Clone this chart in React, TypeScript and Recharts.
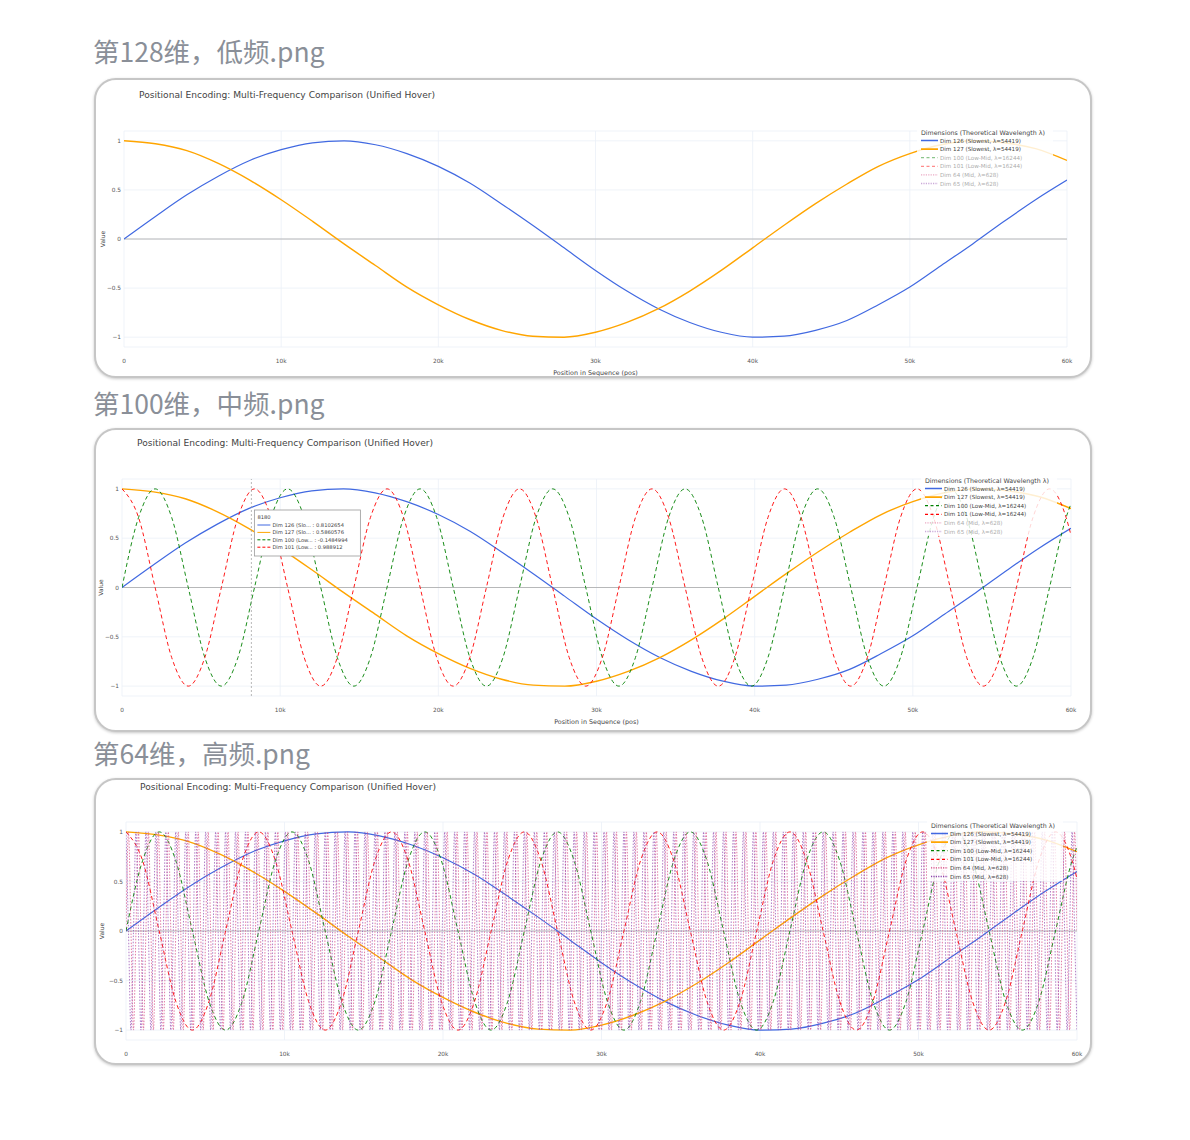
import React from 'react';
import { LineChart, Line, XAxis, YAxis, CartesianGrid, ReferenceLine } from 'recharts';

const FONT = '"DejaVu Sans", Verdana, sans-serif';
const HEAD_FONT = '"Noto Sans CJK SC", "Noto Sans SC", "Noto Sans", "DejaVu Sans", sans-serif';
const MAX_POS = 60000;

const HEADINGS = ['第128维，低频.png', '第100维，中频.png', '第64维，高频.png'];
const CHART_TITLE = 'Positional Encoding: Multi-Frequency Comparison (Unified Hover)';
const LEGEND_TITLE = 'Dimensions (Theoretical Wavelength λ)';
const X_TITLE = 'Position in Sequence (pos)';
const Y_TITLE = 'Value';

const X_TICKS = [0, 10000, 20000, 30000, 40000, 50000, 60000];
const Y_TICKS = [-1, -0.5, 0, 0.5, 1];

const SERIES_KEYS = ['d126', 'd127', 'd100', 'd101', 'd64', 'd65'];
const SERIES_NAMES = [
  'Dim 126 (Slowest, λ=54419)',
  'Dim 127 (Slowest, λ=54419)',
  'Dim 100 (Low-Mid, λ=16244)',
  'Dim 101 (Low-Mid, λ=16244)',
  'Dim 64 (Mid, λ=628)',
  'Dim 65 (Mid, λ=628)',
];

const SLOW_STEP = 2000;
const dim126 = [
  0, 0.23, 0.45, 0.64, 0.8, 0.91, 0.98, 1, 0.96, 0.87, 0.74, 0.57, 0.36, 0.14, -0.09, -0.32,
  -0.53, -0.71, -0.85, -0.95, -1, -0.99, -0.93, -0.83, -0.67, -0.49, -0.27, -0.05, 0.18, 0.4, 0.6,
];
const dim127 = [
  1, 0.97, 0.9, 0.77, 0.6, 0.4, 0.18, -0.05, -0.27, -0.49, -0.67, -0.82, -0.93, -0.99, -1, -0.95,
  -0.85, -0.71, -0.53, -0.32, -0.09, 0.14, 0.36, 0.56, 0.74, 0.87, 0.96, 1, 0.98, 0.92, 0.8,
];

// low-mid pair: one cycle is ~8.38k on the axis, read every 1/8 cycle (last point = 60k)
const MID_STEP = 1047.2;
const dim100 = [
  0, 0.71, 1, 0.71, 0, -0.71, -1, -0.71, 0, 0.71, 1, 0.71, 0, -0.71, -1, -0.71,
  0, 0.71, 1, 0.71, 0, -0.71, -1, -0.71, 0, 0.71, 1, 0.71, 0, -0.71, -1, -0.71,
  0, 0.71, 1, 0.71, 0, -0.71, -1, -0.71, 0, 0.71, 1, 0.71, 0, -0.71, -1, -0.71,
  0, 0.71, 1, 0.71, 0, -0.71, -1, -0.71, 0, 0.71, 0.85,
];
const dim101 = [
  1, 0.71, 0, -0.71, -1, -0.71, 0, 0.71, 1, 0.71, 0, -0.71, -1, -0.71, 0, 0.71,
  1, 0.71, 0, -0.71, -1, -0.71, 0, 0.71, 1, 0.71, 0, -0.71, -1, -0.71, 0, 0.71,
  1, 0.71, 0, -0.71, -1, -0.71, 0, 0.71, 1, 0.71, 0, -0.71, -1, -0.71, 0, 0.71,
  1, 0.71, 0, -0.71, -1, -0.71, 0, 0.71, 1, 0.71, 0.53,
];

// mid pair: ~628 per cycle, read every 1/4 cycle (last point = 60k)
const FAST_STEP = 157.08;
const dim64 = [
  0,1,0,-1,0,1,0,-1,0,1,0,-1,0,1,0,-1,0,1,0,-1,0,1,0,-1,0,1,0,-1,0,1,0,-1,0,1,0,-1,0,1,0,-1,
  0,1,0,-1,0,1,0,-1,0,1,0,-1,0,1,0,-1,0,1,0,-1,0,1,0,-1,0,1,0,-1,0,1,0,-1,0,1,0,-1,0,1,0,-1,
  0,1,0,-1,0,1,0,-1,0,1,0,-1,0,1,0,-1,0,1,0,-1,0,1,0,-1,0,1,0,-1,0,1,0,-1,0,1,0,-1,0,1,0,-1,
  0,1,0,-1,0,1,0,-1,0,1,0,-1,0,1,0,-1,0,1,0,-1,0,1,0,-1,0,1,0,-1,0,1,0,-1,0,1,0,-1,0,1,0,-1,
  0,1,0,-1,0,1,0,-1,0,1,0,-1,0,1,0,-1,0,1,0,-1,0,1,0,-1,0,1,0,-1,0,1,0,-1,0,1,0,-1,0,1,0,-1,
  0,1,0,-1,0,1,0,-1,0,1,0,-1,0,1,0,-1,0,1,0,-1,0,1,0,-1,0,1,0,-1,0,1,0,-1,0,1,0,-1,0,1,0,-1,
  0,1,0,-1,0,1,0,-1,0,1,0,-1,0,1,0,-1,0,1,0,-1,0,1,0,-1,0,1,0,-1,0,1,0,-1,0,1,0,-1,0,1,0,-1,
  0,1,0,-1,0,1,0,-1,0,1,0,-1,0,1,0,-1,0,1,0,-1,0,1,0,-1,0,1,0,-1,0,1,0,-1,0,1,0,-1,0,1,0,-1,
  0,1,0,-1,0,1,0,-1,0,1,0,-1,0,1,0,-1,0,1,0,-1,0,1,0,-1,0,1,0,-1,0,1,0,-1,0,1,0,-1,0,1,0,-1,
  0,1,0,-1,0,1,0,-1,0,1,0,-1,0,1,0,-1,0,1,0,-1,
  0,1,0,
];
const dim65 = [
  1,0,-1,0,1,0,-1,0,1,0,-1,0,1,0,-1,0,1,0,-1,0,1,0,-1,0,1,0,-1,0,1,0,-1,0,1,0,-1,0,1,0,-1,0,
  1,0,-1,0,1,0,-1,0,1,0,-1,0,1,0,-1,0,1,0,-1,0,1,0,-1,0,1,0,-1,0,1,0,-1,0,1,0,-1,0,1,0,-1,0,
  1,0,-1,0,1,0,-1,0,1,0,-1,0,1,0,-1,0,1,0,-1,0,1,0,-1,0,1,0,-1,0,1,0,-1,0,1,0,-1,0,1,0,-1,0,
  1,0,-1,0,1,0,-1,0,1,0,-1,0,1,0,-1,0,1,0,-1,0,1,0,-1,0,1,0,-1,0,1,0,-1,0,1,0,-1,0,1,0,-1,0,
  1,0,-1,0,1,0,-1,0,1,0,-1,0,1,0,-1,0,1,0,-1,0,1,0,-1,0,1,0,-1,0,1,0,-1,0,1,0,-1,0,1,0,-1,0,
  1,0,-1,0,1,0,-1,0,1,0,-1,0,1,0,-1,0,1,0,-1,0,1,0,-1,0,1,0,-1,0,1,0,-1,0,1,0,-1,0,1,0,-1,0,
  1,0,-1,0,1,0,-1,0,1,0,-1,0,1,0,-1,0,1,0,-1,0,1,0,-1,0,1,0,-1,0,1,0,-1,0,1,0,-1,0,1,0,-1,0,
  1,0,-1,0,1,0,-1,0,1,0,-1,0,1,0,-1,0,1,0,-1,0,1,0,-1,0,1,0,-1,0,1,0,-1,0,1,0,-1,0,1,0,-1,0,
  1,0,-1,0,1,0,-1,0,1,0,-1,0,1,0,-1,0,1,0,-1,0,1,0,-1,0,1,0,-1,0,1,0,-1,0,1,0,-1,0,1,0,-1,0,
  1,0,-1,0,1,0,-1,0,1,0,-1,0,1,0,-1,0,1,0,-1,0,
  1,0,-1,
];

// hover readout shown in the second screenshot
const HOVER_POS = 8180;
const HOVER_LABELS = ['Dim 126 (Slo...', 'Dim 127 (Slo...', 'Dim 100 (Low...', 'Dim 101 (Low...'];
const HOVER_VALUES = ['0.8102654', '0.5860576', '-0.1484994', '0.988912'];

type Pt = { pos: number; v: number };
const toPoints = (vals: number[], step: number): Pt[] =>
  vals.map((v, i) => ({ pos: Math.min(i * step, MAX_POS), v }));

const POINTS: Record<string, Pt[]> = {
  d126: toPoints(dim126, SLOW_STEP),
  d127: toPoints(dim127, SLOW_STEP),
  d100: toPoints(dim100, MID_STEP),
  d101: toPoints(dim101, MID_STEP),
  d64: toPoints(dim64, FAST_STEP),
  d65: toPoints(dim65, FAST_STEP),
};

const STYLE: Record<string, { color: string; width: number; dash?: string }> = {
  d126: { color: '#4169E1', width: 1.2 },
  d127: { color: '#FFA500', width: 1.4 },
  d100: { color: '#008000', width: 0.9, dash: '4 3' },
  d101: { color: '#FF0000', width: 0.9, dash: '4 3' },
  d64: { color: '#d6457f', width: 0.7, dash: '1.5 1.5' },
  d65: { color: '#8e44ad', width: 0.7, dash: '1.5 1.5' },
};

// card / plot placement for the three screenshots (page px)
const CARD_LEFT = 94;
const CARD_W = 998;
const BORDER = 2;
const PANELS = [
  { top: 78, height: 300, headTop: 37, plot: { l: 124, r: 1067, t: 131, b: 347 }, title: [139, 95], legend: [921, 132], yTitleX: 102, shown: 2, xTitle: true, hover: false },
  { top: 428, height: 304, headTop: 389, plot: { l: 122, r: 1071, t: 479, b: 696 }, title: [137, 443], legend: [925, 480], yTitleX: 100, shown: 4, xTitle: true, hover: true },
  { top: 778, height: 287, headTop: 739, plot: { l: 126, r: 1077, t: 822, b: 1040 }, title: [140, 787], legend: [931, 825], yTitleX: 101, shown: 6, xTitle: false, hover: false },
];

const fmtX = (v: number) => (v === 0 ? '0' : `${v / 1000}k`);
const fmtY = (v: number) => (v < 0 ? `−${-v}` : `${v}`);

function HoverBox({ viewBox }: any) {
  if (!viewBox) return null;
  const x = viewBox.x + 3;
  const y = viewBox.y + 31;
  return (
    <g fontFamily={FONT}>
      <rect x={x} y={y} width={106} height={46} fill="#fff" stroke="#9a9a9a" strokeWidth={0.8} />
      <text x={x + 3} y={y + 6.5} fontSize={5.2} fill="#444" dominantBaseline="central">{HOVER_POS}</text>
      {HOVER_LABELS.map((lab, i) => {
        const s = STYLE[SERIES_KEYS[i]];
        const ry = y + 15 + i * 7.4;
        return (
          <g key={lab}>
            <line x1={x + 3} x2={x + 16} y1={ry} y2={ry} stroke={s.color} strokeWidth={1} strokeDasharray={s.dash ? '3 2' : undefined} />
            <text x={x + 18} y={ry} fontSize={5.2} fill="#444" dominantBaseline="central">{`${lab} : ${HOVER_VALUES[i]}`}</text>
          </g>
        );
      })}
    </g>
  );
}

function LegendBox({ x, y, shown }: { x: number; y: number; shown: number }) {
  return (
    <g fontFamily={FONT}>
      <rect x={x - 4} y={y - 6} width={136} height={62} fill="rgba(255,255,255,0.82)" />
      <text x={x} y={y} fontSize={6.3} fill="#444" dominantBaseline="central">{LEGEND_TITLE}</text>
      {SERIES_KEYS.map((k, i) => {
        const s = STYLE[k];
        const ry = y + 8.5 + i * 8.6;
        return (
          <g key={k} opacity={i < shown ? 1 : 0.45}>
            <line x1={x} x2={x + 17} y1={ry} y2={ry} stroke={s.color} strokeWidth={k === 'd127' ? 1.8 : 1.3} strokeDasharray={s.dash ? (k === 'd64' || k === 'd65' ? '1.2 1.2' : '3 2.5') : undefined} />
            <text x={x + 19} y={ry} fontSize={5.6} fill="#444" dominantBaseline="central">{SERIES_NAMES[i]}</text>
          </g>
        );
      })}
    </g>
  );
}

function Panel({ idx }: { idx: number }) {
  const p = PANELS[idx];
  const ox = CARD_LEFT + BORDER;
  const oy = p.top + BORDER;
  const W = CARD_W - 2 * BORDER;
  const H = p.height - 2 * BORDER;
  const YW = 20;
  const XH = 20;
  const margin = {
    left: p.plot.l - ox - YW,
    right: W - (p.plot.r - ox),
    top: p.plot.t - oy,
    bottom: H - (p.plot.b - oy) - XH,
  };
  const keys = SERIES_KEYS.slice(0, p.shown);
  const tick = { fontSize: 5.8, fill: '#555', fontFamily: FONT };

  return (
    <>
      <div
        style={{
          position: 'absolute', left: 93, top: p.headTop, fontSize: 26.5, lineHeight: '27px',
          fontFamily: HEAD_FONT, color: '#8a8f98', whiteSpace: 'nowrap',
        }}
      >
        {HEADINGS[idx]}
      </div>
      <div
        style={{
          position: 'absolute', left: CARD_LEFT, top: p.top, width: CARD_W, height: p.height,
          boxSizing: 'border-box', border: `${BORDER}px solid #c6c6c6`, borderRadius: 22,
          overflow: 'hidden', background: '#fff', boxShadow: '0 1px 3px rgba(0,0,0,0.22)',
        }}
      >
        <div style={{ position: 'absolute', left: 0, top: 0 }}>
          <LineChart width={W} height={H} margin={margin}>
            <CartesianGrid stroke="#EBF0F8" strokeWidth={0.8} />
            <XAxis
              type="number"
              dataKey="pos"
              domain={[0, MAX_POS]}
              ticks={X_TICKS}
              interval={0}
              tickFormatter={fmtX}
              tickSize={0}
              tickMargin={12}
              axisLine={false}
              tickLine={false}
              height={XH}
              tick={tick}
              allowDataOverflow
              label={
                p.xTitle
                  ? (lp: any) => (
                      <text
                        x={lp.viewBox.x + lp.viewBox.width / 2}
                        y={lp.viewBox.y + 26}
                        textAnchor="middle"
                        dominantBaseline="central"
                        fontSize={6.4}
                        fill="#444"
                        fontFamily={FONT}
                      >
                        {X_TITLE}
                      </text>
                    )
                  : undefined
              }
            />
            <YAxis
              type="number"
              domain={[-1.1, 1.1]}
              ticks={Y_TICKS}
              interval={0}
              tickFormatter={fmtY}
              width={YW}
              tickSize={0}
              tickMargin={3}
              axisLine={false}
              tickLine={false}
              tick={tick}
              allowDataOverflow
              label={(lp: any) => {
                const cx = p.yTitleX - ox;
                const cy = lp.viewBox.y + lp.viewBox.height / 2;
                return (
                  <text
                    transform={`translate(${cx},${cy}) rotate(-90)`}
                    textAnchor="middle"
                    dominantBaseline="central"
                    fontSize={6}
                    fill="#444"
                    fontFamily={FONT}
                  >
                    {Y_TITLE}
                  </text>
                );
              }}
            />
            <ReferenceLine y={0} stroke="#a8a8a8" strokeWidth={0.8} />
            {keys.map((k) => (
              <Line
                key={k}
                data={POINTS[k]}
                dataKey="v"
                type="monotone"
                stroke={STYLE[k].color}
                strokeWidth={STYLE[k].width}
                strokeDasharray={STYLE[k].dash}
                dot={false}
                activeDot={false}
                isAnimationActive={false}
              />
            ))}
            {p.hover && (
              <ReferenceLine
                x={HOVER_POS}
                stroke="#9a9a9a"
                strokeWidth={0.7}
                strokeDasharray="2 2"
                label={(lp: any) => <HoverBox viewBox={lp.viewBox} />}
              />
            )}
          </LineChart>
        </div>
        <svg width={W} height={H} style={{ position: 'absolute', left: 0, top: 0, pointerEvents: 'none' }}>
          <text x={p.title[0] - ox} y={p.title[1] - oy} fontSize={9.1} fill="#444" fontFamily={FONT} dominantBaseline="central">
            {CHART_TITLE}
          </text>
          <LegendBox x={p.legend[0] - ox} y={p.legend[1] - oy} shown={p.shown} />
        </svg>
      </div>
    </>
  );
}

export default function App() {
  return (
    <div style={{ position: 'absolute', left: 0, top: 0, width: 1190, height: 1140, background: '#fff' }}>
      {PANELS.map((_, i) => (
        <Panel key={i} idx={i} />
      ))}
    </div>
  );
}
